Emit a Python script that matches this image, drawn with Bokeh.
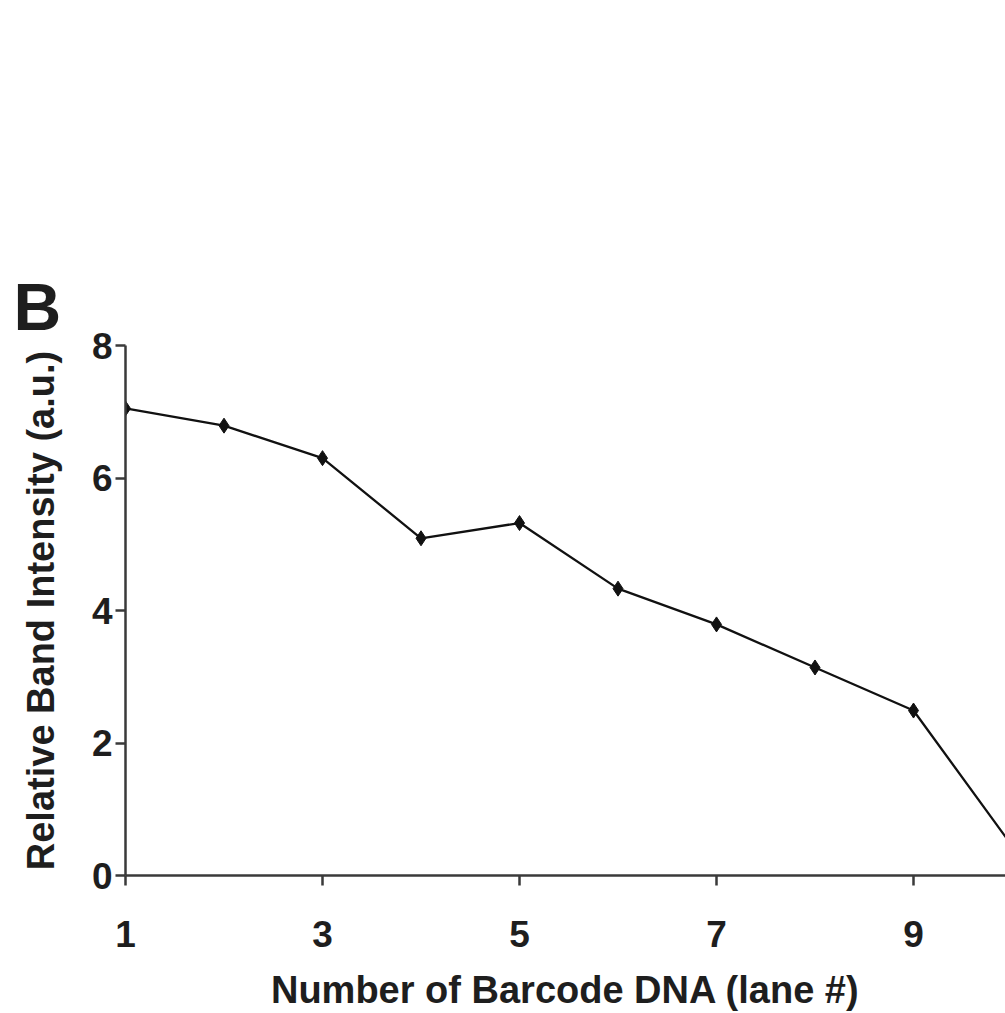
from bokeh.plotting import figure
from bokeh.models import FixedTicker, Range1d, LinearAxis, Title
from bokeh.embed import file_html
from bokeh.resources import INLINE

lanes = [1, 2, 3, 4, 5, 6, 7, 8, 9, 10]
intensity = [7.05, 6.79, 6.30, 5.09, 5.32, 4.33, 3.79, 3.14, 2.49, 0.45]
x_ticks = [1, 3, 5, 7, 9]
y_ticks = [0, 2, 4, 6, 8]
x_title = "Number of Barcode DNA (lane #)"
y_title = "Relative Band Intensity (a.u.)"
panel_letter = "B"

FONT = "Liberation Sans"
TXT = "#1e1e1e"
AX = "#3a3a3a"

p = figure(width=1005, height=1013, output_backend="svg", toolbar_location=None,
           x_range=Range1d(1, 9.934), y_range=Range1d(0, 8),
           min_border_left=125, min_border_right=0, min_border_top=345, min_border_bottom=138)
p.outline_line_color = None
p.xgrid.visible = False
p.ygrid.visible = False
p.background_fill_color = "white"
p.border_fill_color = "white"

xax = p.below[0]
yax = p.left[0]

# invisible spacer above the frame (no ticks are drawn), so the panel letter sits near the page top
spacer = LinearAxis(ticker=FixedTicker(ticks=[]), axis_line_color=None,
                    major_tick_line_color="white", minor_tick_line_color=None,
                    major_tick_out=270, major_tick_in=0, major_label_standoff=0,
                    axis_label_standoff=0)
p.add_layout(spacer, "above")
p.add_layout(Title(text=panel_letter, text_font=FONT, text_font_style="bold",
                   text_font_size="66px", text_color=TXT, align="left",
                   vertical_align="top", offset=-112, standoff=0), "above")

p.line(lanes, intensity, line_color="#111111", line_width=2.3)
p.scatter(lanes, intensity, marker="diamond", size=15, fill_color="#111111", line_color="#111111")

for ax in (xax, yax):
    ax.axis_line_color = AX
    ax.axis_line_width = 2.5
    ax.major_tick_line_color = AX
    ax.major_tick_line_width = 2.5
    ax.major_tick_out = 10
    ax.major_tick_in = 0
    ax.minor_tick_line_color = None
    ax.major_label_text_font = FONT
    ax.major_label_text_font_style = "bold"
    ax.major_label_text_font_size = "37px"
    ax.major_label_text_color = TXT
    ax.axis_label_text_font = FONT
    ax.axis_label_text_font_style = "bold"
    ax.axis_label_text_font_size = "38px"
    ax.axis_label_text_color = TXT

xax.ticker = FixedTicker(ticks=x_ticks)
yax.ticker = FixedTicker(ticks=y_ticks)
xax.axis_label = x_title
yax.axis_label = y_title
xax.major_label_standoff = 35
xax.axis_label_standoff = 19
yax.major_label_standoff = 3
yax.axis_label_standoff = 27

open("out.html", "w").write(file_html(p, INLINE))
